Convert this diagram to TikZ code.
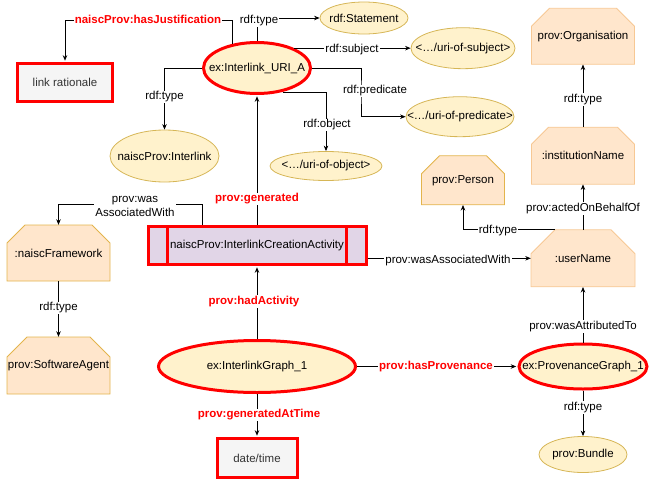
\documentclass[tikz,border=0pt]{standalone}
\usepackage{fontspec}
\setmainfont{Liberation Sans}
\usetikzlibrary{shapes.geometric,arrows.meta}

\definecolor{ellfill}{HTML}{FFF2CC}
\definecolor{ellline}{HTML}{D6B656}
\definecolor{agfill}{HTML}{FFE6CC}
\definecolor{agline}{HTML}{F7C894}
\definecolor{agline2}{HTML}{E3B44C}
\definecolor{actfill}{HTML}{E1D5E7}
\definecolor{boxfill}{HTML}{F5F5F5}
\definecolor{hot}{HTML}{FF0000}
\definecolor{grey3}{HTML}{333333}

% text of zero width, so that the ellipse keeps its given size
\newcommand{\zw}[1]{\makebox[0pt][c]{#1}}

% agent shape: rectangle with its two top corners cut off
% #1 name, #2 cx, #3 cy, #4 width, #5 height, #6 cut, #7 stroke, #8 text
\newcommand{\agentshape}[8]{%
  \filldraw[fill=agfill, draw=#7, line width=0.8pt, line join=miter]
    (#2-#4/2, #3+#5/2) -- (#2-#4/2, #3-#5/2+#6) -- (#2-#4/2+#6, #3-#5/2)
    -- (#2+#4/2-#6, #3-#5/2) -- (#2+#4/2, #3-#5/2+#6) -- (#2+#4/2, #3+#5/2) -- cycle;
  \node[base, minimum width=#4pt, minimum height=#5pt] (#1) at (#2,#3) {\zw{#8}};
}

\tikzset{
  base/.style={font=\fontsize{11.5}{13.5}\selectfont, inner sep=0pt},
  ell/.style={base, ellipse, draw=ellline, fill=ellfill, line width=0.8pt},
  hotell/.style={base, ellipse, draw=hot, fill=ellfill, line width=3pt},
  hotbox/.style={base, rectangle, draw=hot, fill=boxfill, line width=3pt, text=grey3},
  edge/.style={draw=black, line width=0.7pt, -{Stealth[length=5.5pt,width=4.5pt]}},
  hotedge/.style={edge, shorten >=1.3pt},
  lab/.style={base, fill=white, inner sep=1pt},
  hotlab/.style={lab, text=hot, font=\fontsize{11.5}{13.5}\selectfont\bfseries},
}

\begin{document}
\begin{tikzpicture}[x=1pt, y=-1pt]
\useasboundingbox (0,0) rectangle (649,480);

% ---- resources ----
\node[hotbox, minimum width=95pt, minimum height=38pt] (rat) at (65,82.5) {link rationale};
\node[hotell, minimum width=107pt, minimum height=51pt] (uri) at (257,68) {\zw{ex:Interlink\_URI\_A}};
\node[ell, minimum width=88pt, minimum height=32pt] (stmt) at (364,18) {\zw{rdf:Statement}};
\node[ell, minimum width=104pt, minimum height=41pt] (subj) at (463,48.2) {\zw{<…/uri-of-subject>}};
\node[ell, minimum width=108pt, minimum height=40pt] (pred) at (460,116.7) {\zw{<…/uri-of-predicate>}};
\node[ell, minimum width=112pt, minimum height=29pt] (obj) at (326,166) {\zw{<…/uri-of-object>}};
\node[ell, minimum width=109pt, minimum height=52pt] (ilk) at (164.5,156) {\zw{naiscProv:Interlink}};

% ---- agents ----
\agentshape{org}{583}{36.3}{103}{56}{18}{agline}{prov:Organisation}
\agentshape{inst}{583}{155.7}{103}{57}{17}{agline}{:institutionName}
\agentshape{user}{583}{258.3}{104}{57}{24}{agline}{:userName}
\agentshape{pers}{463}{180.3}{83}{49}{18}{agline2}{prov:Person}
\agentshape{fw}{58.5}{253}{103}{56}{18}{agline2}{:naiscFramework}
\agentshape{sa}{58.5}{365.5}{103}{57}{20}{agline2}{prov:SoftwareAgent}

% ---- activity (process shape) ----
\node[base, draw=hot, fill=actfill, line width=3pt, minimum width=218pt, minimum height=38pt]
  (act) at (257,245.5) {naiscProv:InterlinkCreationActivity};
\draw[hot, line width=3pt] ([xshift=21pt]act.north west) -- ([xshift=21pt]act.south west);
\draw[hot, line width=3pt] ([xshift=-21pt]act.north east) -- ([xshift=-21pt]act.south east);

% ---- graphs ----
\node[hotell, minimum width=197pt, minimum height=52pt] (ig) at (257,366.5) {\zw{ex:InterlinkGraph\_1}};
\node[hotell, minimum width=128pt, minimum height=45pt] (pg) at (583,366.5) {\zw{ex:ProvenanceGraph\_1}};
\node[hotbox, minimum width=80pt, minimum height=39pt] (dt) at (257,458) {date/time};
\node[ell, minimum width=88pt, minimum height=36pt] (bdl) at (583,454.5) {\zw{prov:Bundle}};

% ---- connectors ----
\coordinate (j1) at (65,20);
\draw[hotedge] (uri.136) |- (j1) -- (rat.north);
\node[hotlab] (l1) at (148,19.5) {naiscProv:hasJustification};

\draw[edge] (uri.north) |- (stmt.west);
\node[lab] (l2) at (259,20.5) {rdf:type};

\draw[edge] (uri.28) -- (uri.28 -| subj.west);
\node[lab] (l3) at (352,49.5) {rdf:subject};

\coordinate (j4) at (361,92);
\draw[edge] (uri.east) -| (j4) |- (pred.west);
\node[lab] (l4) at (375,91) {rdf:predicate};

\draw[edge] (uri.-43) -| (obj.north);
\node[lab] (l5) at (327,125) {rdf:object};

\draw[edge] (uri.west) -| (ilk.north);
\node[lab] (l6) at (164.5,97) {rdf:type};

\draw[hotedge] (act.north) -- (uri.south);
\node[hotlab] (l7) at (257,199) {prov:generated};

\coordinate (j8) at (202.3,204.3);
\draw[edge] (j8 |- act.north) -- (j8) -| (fw.north);
\node[lab, align=center] (l8) at (135,206.5) {prov:was\\AssociatedWith};

\draw[edge] (fw.south) -- (sa.north);
\node[lab] (l9) at (58.5,308) {rdf:type};

\draw[edge] (act.east |- user.west) -- (user.west);
\node[lab] (l10) at (448,261) {prov:wasAssociatedWith};

\draw[edge] ([xshift=24pt]user.north west) -| (pers.south);
\node[lab] (l11) at (498,231) {rdf:type};

\draw[edge] (user.north) -- (inst.south);
\node[lab] (l12) at (583,208.3) {prov:actedOnBehalfOf};

\draw[edge] (inst.north) -- (org.south);
\node[lab] (l13) at (583,99.3) {rdf:type};

\draw[edge] (pg.north) -- (user.south);
\node[lab] (l14) at (583,326.7) {prov:wasAttributedTo};

\draw[hotedge] (ig.north) -- (act.south);
\node[hotlab] (l15) at (254,301.7) {prov:hadActivity};

\draw[hotedge] (ig.east) -- (pg.west);
\node[hotlab] (l16) at (436,366.5) {prov:hasProvenance};

\draw[hotedge] (ig.south) -- (dt.north);
\node[hotlab] (l17) at (259,415) {prov:generatedAtTime};

\draw[edge] (pg.south) -- (bdl.north);
\node[lab] (l18) at (583,407.5) {rdf:type};
\end{tikzpicture}
\end{document}
